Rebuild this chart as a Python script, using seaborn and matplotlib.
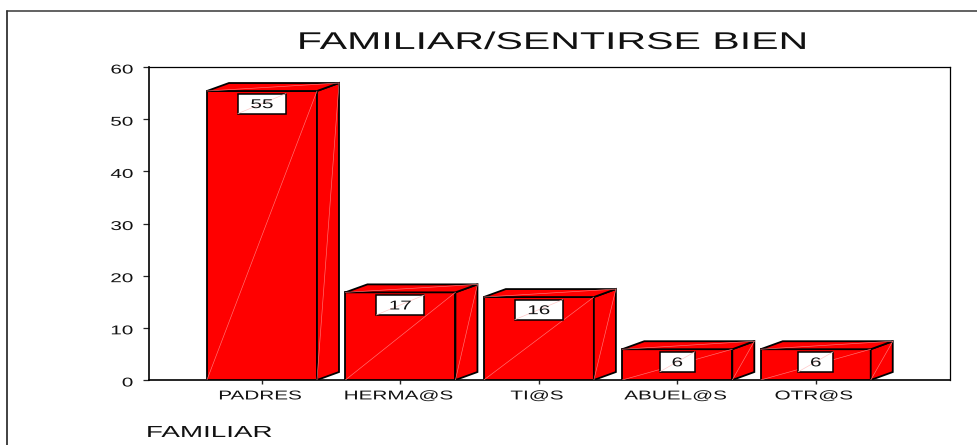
import matplotlib
matplotlib.use("Agg")
import matplotlib.pyplot as plt
import matplotlib.patheffects as pe
from matplotlib.lines import Line2D
from matplotlib.patches import Polygon, Rectangle
from matplotlib.transforms import Affine2D
import pandas as pd
import seaborn as sns

familiares = ["PADRES", "HERMA@S", "TI@S", "ABUEL@S", "OTR@S"]
valores = [55.4, 16.8, 15.9, 5.9, 5.9]
etiquetas = ["55", "17", "16", "6", "6"]
ticks_y = [0, 10, 20, 30, 40, 50, 60]


# the original image is stretched sideways, so the glyphs get widened too
class Stretch(pe.AbstractPathEffect):
    def __init__(self, sx, anchor="center", shift=(0, 0)):
        super().__init__()
        self.sx = sx
        self.anchor = anchor
        self.shift = shift

    def draw_path(self, renderer, gc, tpath, affine, rgbFace=None):
        ext = tpath.get_extents()
        px = ext.x1 if self.anchor == "right" else (ext.x0 + ext.x1) / 2
        t = Affine2D().translate(-px, 0).scale(self.sx, 1).translate(px, 0) + affine
        t = t + Affine2D().translate(*self.shift)
        renderer.draw_path(gc, tpath, t, rgbFace)


sns.set_style("white")
plt.rcParams["font.family"] = ["Liberation Sans", "DejaVu Sans"]

W, H = 978, 445
fig = plt.figure(figsize=(W / 100, H / 100), dpi=100)
ax = fig.add_axes([149 / W, (H - 380) / H, 801 / W, 313 / H])

df = pd.DataFrame({"familiar": familiares, "valor": valores})
sns.barplot(data=df, x="familiar", y="valor", color="#ff0000", saturation=1,
            width=0.795, edgecolor="black", linewidth=1.3, zorder=3, ax=ax)

ax.set_xlim(-0.816, 4.97)
ax.set_ylim(0, 60)
ax.set_yticks(ticks_y)

dx = 0.159
dy = 1.53
rosa = "#ff7878"
for bar, lab in zip(ax.patches, etiquetas):
    x0 = bar.get_x()
    x1 = x0 + bar.get_width()
    h = bar.get_height()
    side = Polygon([(x1, 0), (x1 + dx, dy), (x1 + dx, h + dy), (x1, h)], closed=True,
                   fc="#ff0000", ec="black", lw=1.3, zorder=3)
    top = Polygon([(x0, h), (x0 + dx, h + dy), (x1 + dx, h + dy), (x1, h)], closed=True,
                  fc="#ff0000", ec="black", lw=1.3, zorder=3)
    ax.add_patch(side)
    ax.add_patch(top)
    ax.plot([x0, x1], [0, h], color=rosa, lw=0.45, zorder=4)
    ax.plot([x1, x1 + dx], [0, h + dy], color=rosa, lw=0.45, zorder=4)
    ax.plot([x0, x1 + dx], [h, h + dy], color=rosa, lw=0.45, zorder=4)

    # value box under the top edge of the bar
    cx = (x0 + x1) / 2
    bw = 0.16 + 0.094 * len(lab)
    bh = 3.83
    by = h - 0.5 - bh
    ax.add_patch(Rectangle((cx - bw / 2, by), bw, bh, fc="white", ec="black", lw=1.1, zorder=5))
    ax.plot([cx - bw / 2, cx + bw / 2], [by, by + bh], color="#ffc8c8", lw=0.5, zorder=5)
    ax.text(cx, by + bh / 2, lab, ha="center", va="center_baseline", fontsize=9.2, color="#111111",
            zorder=6, path_effects=[Stretch(1.62)])

for s in ax.spines.values():
    s.set_visible(True)
    s.set_color("black")
    s.set_linewidth(0.9)
ax.spines["left"].set_linewidth(1.2)
ax.spines["bottom"].set_linewidth(1.2)

ax.tick_params(axis="y", left=True, length=4.5, width=0.9, pad=7, labelsize=9.2, labelcolor="#111111")
ax.tick_params(axis="x", bottom=True, length=3, width=1.0, pad=4.5, labelsize=9.2, labelcolor="#111111")
for t in ax.get_yticklabels():
    t.set_path_effects([Stretch(1.62, "right", shift=(0, -2))])
for t in ax.get_xticklabels():
    t.set_path_effects([Stretch(1.62, shift=(-2, 0))])

ax.set_ylabel("")
ax.set_xlabel("FAMILIAR", fontsize=11.5, color="#111111", va="baseline",
              path_effects=[Stretch(1.74)])
ax.xaxis.set_label_coords((209.5 - 149) / 801, -(437 - 380) / 313)

ax.set_title("FAMILIAR/SENTIRSE BIEN", fontsize=17.4, color="#111111", x=(552.5 - 149) / 801, pad=13,
             path_effects=[Stretch(1.7)])

# outer frame: only top and left are in the picture
fig.add_artist(Line2D([7.5 / W, 1], [1 - 11 / H, 1 - 11 / H], color="#555555", lw=1.3))
fig.add_artist(Line2D([7.5 / W, 7.5 / W], [1 - 11 / H, 0], color="#333333", lw=1.3))

plt.savefig("out.png", dpi=100)
